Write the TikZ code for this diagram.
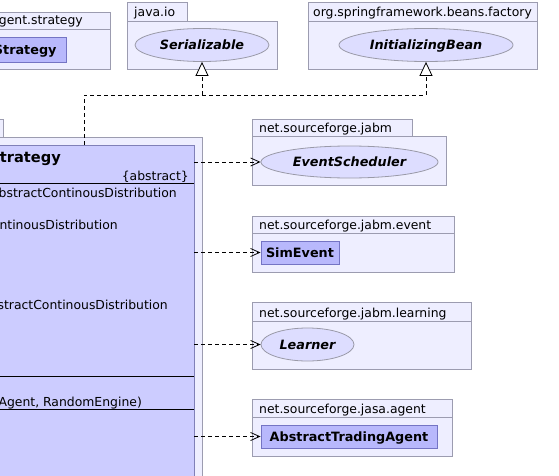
\documentclass[tikz,border=0pt]{standalone}
\usepackage{fontspec}
\setmainfont{DejaVu Sans}
\usetikzlibrary{shapes.geometric,arrows.meta,fit}
\definecolor{pkgfill}{HTML}{EEEEFF}
\definecolor{pkgline}{HTML}{9C9CB0}
\definecolor{clsfill}{HTML}{CCCCFF}
\definecolor{clsline}{HTML}{8080B8}
\definecolor{smallfill}{HTML}{B8B8FC}
\definecolor{smallline}{HTML}{7474C4}
\definecolor{ellfill}{HTML}{DDDDFF}
\definecolor{ellline}{HTML}{9A9AA8}
\begin{document}
\begin{tikzpicture}[x=1pt,y=-1pt,
  pkg/.style={draw=pkgline, fill=pkgfill, line width=0.9pt, inner sep=0pt},
  pkgtext/.style={font=\fontsize{12.4}{14}\selectfont, inner sep=0pt, anchor=base west},
  plaintext/.style={font=\fontsize{12.4}{14}\selectfont, inner sep=0pt, anchor=base east},
  titletext/.style={font=\fontsize{14.6}{17}\selectfont\bfseries, inner sep=0pt, anchor=base east},
  cls/.style={draw=clsline, fill=clsfill, line width=0.9pt, inner sep=0pt},
  smallcls/.style={draw=smallline, fill=smallfill, line width=0.9pt, inner sep=0pt,
    font=\fontsize{12.8}{15}\selectfont\bfseries, text height=9pt, text depth=0pt},
  iface/.style={ellipse, draw=ellline, fill=ellfill, line width=0.8pt, inner sep=0pt,
    font=\fontsize{12.8}{15}\selectfont\bfseries\itshape, text height=9pt, text depth=0pt},
  sepline/.style={draw=black, line width=0.9pt},
  dep/.style={draw=black, line width=0.8pt, dash pattern=on 4pt off 3pt,
    -{Straight Barb[length=9pt,width=8pt,line width=0.8pt]}},
  real/.style={draw=black, line width=0.8pt, dash pattern=on 4pt off 3pt,
    -{Triangle[open,length=14pt,width=13pt,fill=white,line width=0.8pt]}}
]
\useasboundingbox (0,0) rectangle (559,476);
\clip (0,0) rectangle (559,476);
\fill[white] (0,0) rectangle (559,476);

% package agent.strategy
\node[pkg, fit={(-200,29) (110,69)}] (pstratB) {};
\node[pkg, fit={(-200,12) (110,29)}] (pstratT) {};
\node[plaintext] (pstratL) at (83,25) {net.sourceforge.jasa.agent.strategy};
\node[smallcls, fit={(-60,37) (66,62)}] (strat) {};
\node[smallcls, draw=none, fill=none, anchor=base east, inner sep=0pt] (stratL) at (57,55) {Strategy};

% package java.io
\node[pkg, fit={(127,21) (277,69)}] (pioB) {};
\node[pkg, fit={(127,2) (187,21)}] (pioT) {};
\node[pkgtext] (pioL) at (134,17) {java.io};
\node[iface, minimum width=134pt, minimum height=33pt] (ser) at (202,45) {Serializable};

% package org.springframework.beans.factory
\node[pkg, fit={(308,21) (537,69)}] (pspB) {};
\node[pkg, fit={(308,2) (537,21)}] (pspT) {};
\node[pkgtext] (pspL) at (313,17) {org.springframework.beans.factory};
\node[iface, minimum width=174pt, minimum height=33pt] (ib) at (426,45) {InitializingBean};

% main package and class
\node[pkg, fit={(-320,137) (202,560)}] (mpB) {};
\node[pkg, fit={(-320,119) (3,137)}] (mpT) {};
\node[cls, fit={(-300,145) (194,540)}] (main) {};
\node[titletext] (mtitle) at (61,162) {AbstractStrategy};
\node[plaintext] (mabs) at (189,180) {\{abstract\}};
\coordinate (s1) at (0,183);
\draw[sepline] (main.west |- s1) -- (main.east |- s1);
\node[plaintext] (ma1) at (177,197.5) {\#priceDistribution : AbstractContinousDistribution};
\node[plaintext] (ma2) at (118,229) {AbstractContinousDistribution};
\node[plaintext] (ma3) at (168,309) {\#noiseDistribution : AbstractContinousDistribution};
\coordinate (s2) at (0,376);
\draw[sepline] (main.west |- s2) -- (main.east |- s2);
\node[plaintext] (mc1) at (142,406) {+AbstractStrategy(AbstractTradingAgent, RandomEngine)};
\coordinate (s3) at (0,409);
\draw[sepline] (main.west |- s3) -- (main.east |- s3);

% package net.sourceforge.jabm
\node[pkg, fit={(252,136) (446,185)}] (pjB) {};
\node[pkg, fit={(252,119) (412,136)}] (pjT) {};
\node[pkgtext] (pjL) at (259,132) {net.sourceforge.jabm};
\node[iface, minimum width=177pt, minimum height=32pt] (es) at (349.5,162) {EventScheduler};

% package net.sourceforge.jabm.event
\node[pkg, fit={(252,233) (454,272)}] (peB) {};
\node[pkg, fit={(252,216) (454,233)}] (peT) {};
\node[pkgtext] (peL) at (259,229) {net.sourceforge.jabm.event};
\node[smallcls, minimum width=78pt, minimum height=23pt] (sim) at (300,252.5) {SimEvent};

% package net.sourceforge.jabm.learning
\node[pkg, fit={(252,321) (471,369)}] (plB) {};
\node[pkg, fit={(252,302) (471,321)}] (plT) {};
\node[pkgtext] (plL) at (259,317) {net.sourceforge.jabm.learning};
\node[iface, minimum width=93pt, minimum height=33pt] (learn) at (307.5,344.5) {Learner};

% package net.sourceforge.jasa.agent
\node[pkg, fit={(252,417) (452,456)}] (paB) {};
\node[pkg, fit={(252,399) (452,417)}] (paT) {};
\node[pkgtext] (paL) at (259,413) {net.sourceforge.jasa.agent};
\node[smallcls, minimum width=176pt, minimum height=23pt] (ata) at (349,436.5) {AbstractTradingAgent};

% realizations
\coordinate (jn) at (84,95);
\draw[real] (jn |- main.north) -- (jn) -| (ib.south);
\draw[real] (jn -| ser.south) -- (ser.south);

% dependencies
\draw[dep] (main.east |- es.west) -- (es.west);
\draw[dep] (main.east |- sim.west) -- (sim.west);
\draw[dep] (main.east |- learn.west) -- (learn.west);
\draw[dep] (main.east |- ata.west) -- (ata.west);
\end{tikzpicture}
\end{document}
